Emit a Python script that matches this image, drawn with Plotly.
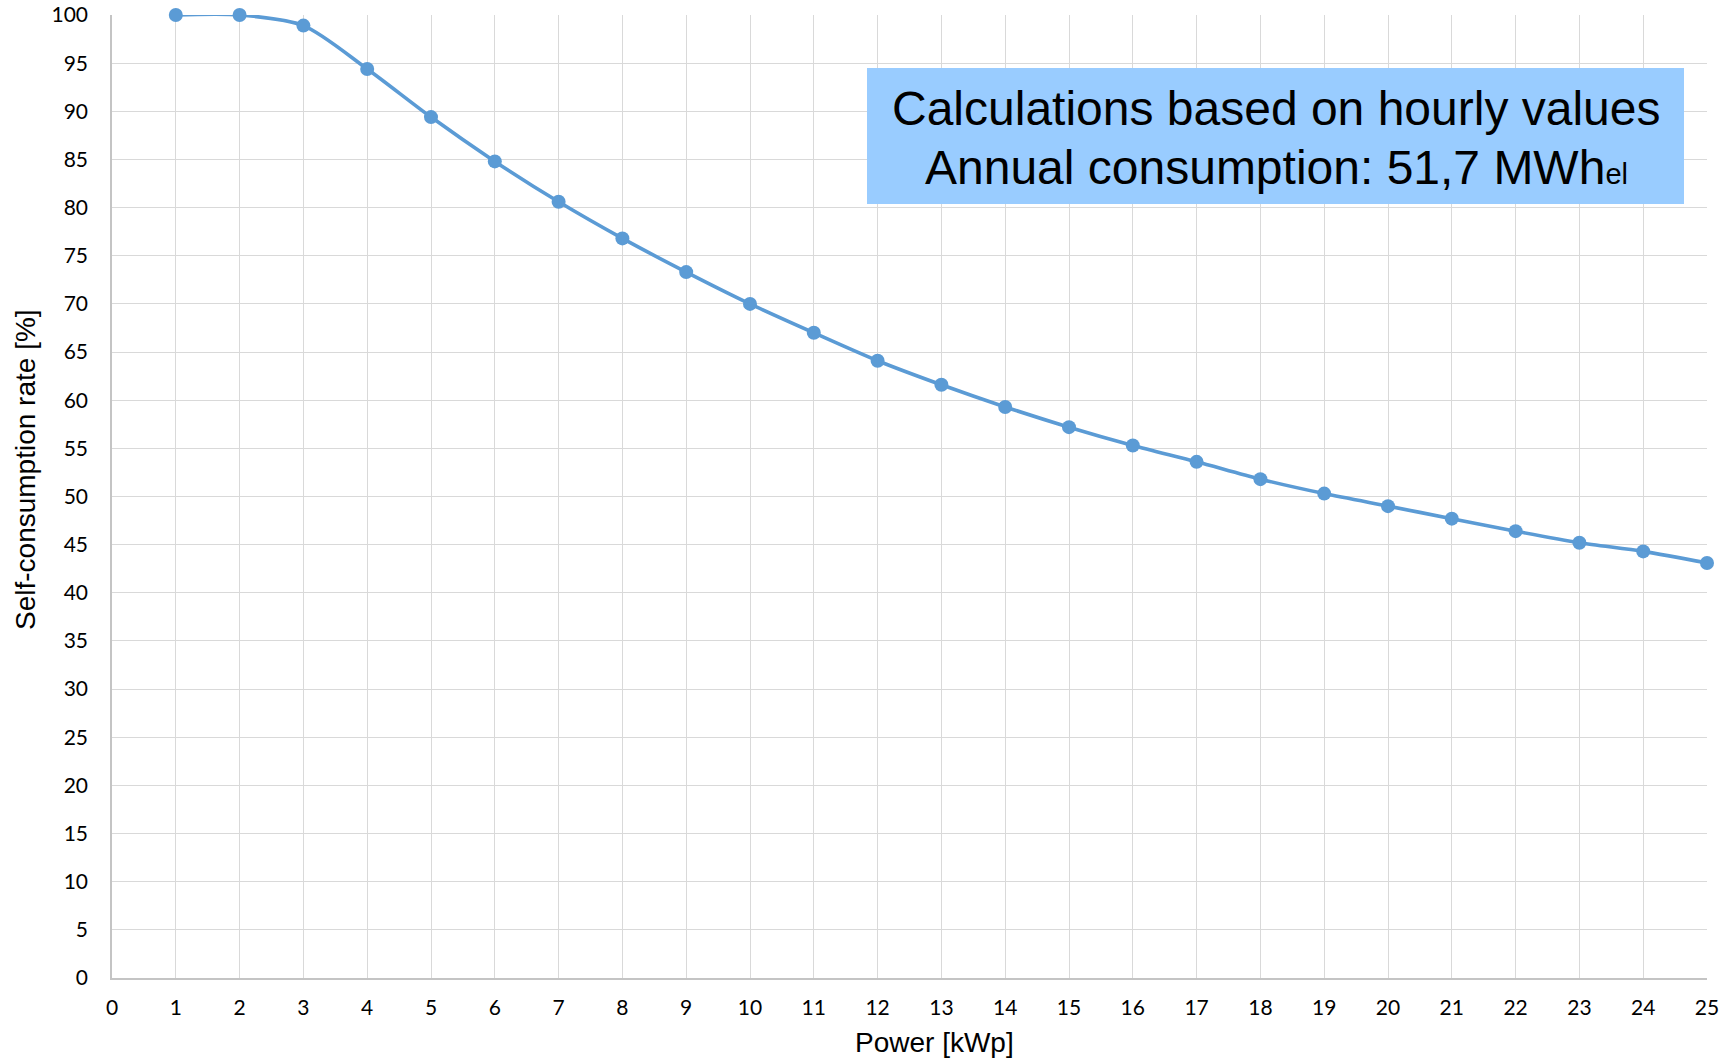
import plotly.graph_objects as go

power_kwp = list(range(1, 26))
self_consumption = [100.0, 100.0, 98.9, 94.4, 89.4, 84.8, 80.6, 76.8, 73.3, 70.0,
                    67.0, 64.1, 61.6, 59.3, 57.2, 55.3, 53.6, 51.8, 50.3, 49.0,
                    47.7, 46.4, 45.2, 44.3, 43.1]
x_ticks = list(range(0, 26))
y_ticks = list(range(0, 101, 5))

title_line1 = "Calculations based on hourly values"
title_line2 = "Annual consumption: 51,7 MWh<span style='font-size:29px'>el</span>"

W, H = 1729, 1059
L, R, T, B = 112, 22, 15, 81
pw, ph = W - L - R, H - T - B


def px_x(x):
    return (x - L) / pw


def px_y(y):
    return (H - B - y) / ph


blue = "#5B9BD5"
grid = "#D9D9D9"

fig = go.Figure()
fig.add_trace(go.Scatter(
    x=power_kwp, y=self_consumption, mode="lines+markers",
    line=dict(color=blue, width=3.6, shape="spline", smoothing=0.8),
    marker=dict(color=blue, size=14),
    cliponaxis=False, showlegend=False, hoverinfo="skip",
))

tick_font = dict(family="Lato, Noto Sans, sans-serif", size=21, color="#000000")
fig.update_xaxes(
    range=[0, 25], tickvals=x_ticks, ticktext=[str(v) for v in x_ticks],
    showgrid=True, gridcolor=grid, gridwidth=1.3,
    showline=True, linecolor="#C4C4C4", linewidth=1.5,
    zeroline=False, ticks="", tickfont=tick_font, ticklabelstandoff=10,
    ticklabeloverflow="allow",
)
fig.update_yaxes(
    range=[0, 100], tickvals=y_ticks, ticktext=[str(v) for v in y_ticks],
    showgrid=True, gridcolor=grid, gridwidth=1.3,
    showline=True, linecolor="#C4C4C4", linewidth=1.5,
    zeroline=False, ticks="", tickfont=tick_font, ticklabelstandoff=18,
    ticklabeloverflow="allow",
)

# text box
fig.add_shape(type="rect", xref="paper", yref="paper",
              x0=px_x(867), x1=px_x(1684), y0=px_y(204), y1=px_y(68),
              fillcolor="#99CCFF", line=dict(width=0), layer="above")

box_font = dict(family="Liberation Sans, Arial, sans-serif", size=48, color="#000000")
fig.add_annotation(text=title_line1, xref="paper", yref="paper",
                   x=px_x(1276), y=px_y(108), xanchor="center", yanchor="middle",
                   showarrow=False, font=box_font)
fig.add_annotation(text=title_line2, xref="paper", yref="paper",
                   x=px_x(1276), y=px_y(167), xanchor="center", yanchor="middle",
                   showarrow=False, font=box_font)

title_font = dict(family="Liberation Sans, Arial, sans-serif", size=28, color="#000000")
fig.add_annotation(text="Self-consumption rate [%]", xref="paper", yref="paper",
                   x=px_x(25), y=px_y(470), xanchor="center", yanchor="middle",
                   textangle=-90, showarrow=False, font=title_font)
fig.add_annotation(text="Power [kWp]", xref="paper", yref="paper",
                   x=px_x(934), y=px_y(1042), xanchor="center", yanchor="middle",
                   showarrow=False, font=title_font)

fig.update_layout(
    width=W, height=H,
    margin=dict(l=L, r=R, t=T, b=B, autoexpand=False),
    plot_bgcolor="#FFFFFF", paper_bgcolor="#FFFFFF",
)

fig.write_html(
    "out.html",
    config={"displayModeBar": False},
    post_script="document.body.style.margin='0';document.body.style.overflow='hidden';",
)
